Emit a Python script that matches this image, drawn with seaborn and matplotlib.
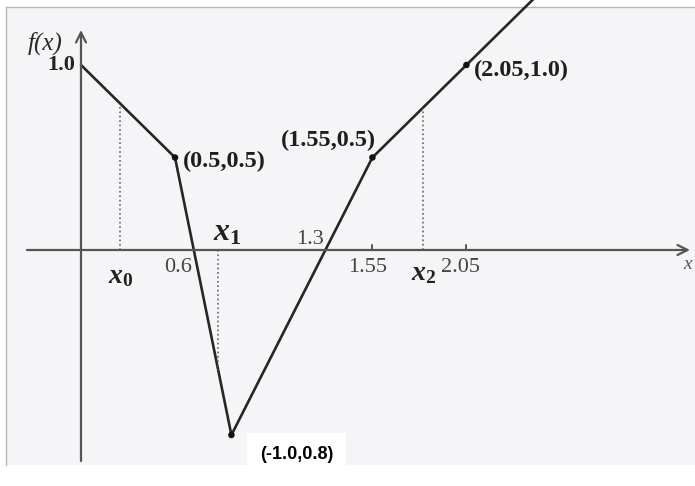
import numpy as np
import pandas as pd
import matplotlib
matplotlib.use("Agg")
import matplotlib.pyplot as plt
import seaborn as sns

# piecewise linear f(x) as drawn (last point is where the line leaves the top)
curve_x = [0.0, 0.5, 0.8, 1.55, 2.05, 2.45]
curve_y = [1.0, 0.5, -1.0, 0.5, 1.0, 1.4]

# marked points and their printed labels
dot_x = [0.5, 1.55, 2.05, 0.8]
dot_y = [0.5, 0.5, 1.0, -1.0]
dot_labels = ["(0.5,0.5)", "(1.55,0.5)", "(2.05,1.0)", "(-1.0,0.8)"]

# x positions of the iterates x0, x1, x2
iter_x = [0.21, 0.73, 1.82]
iter_labels = [r"$x_0$", r"$x_1$", r"$x_2$"]

# values written along the x axis
tick_vals = [0.6, 1.3, 1.55, 2.05]
tick_labels = ["0.6", "1.3", "1.55", "2.05"]

sns.set_style("white")
plt.rcParams["font.family"] = ["Liberation Serif", "DejaVu Serif"]
plt.rcParams["mathtext.fontset"] = "custom"
plt.rcParams["mathtext.it"] = "Liberation Serif:italic:bold"
plt.rcParams["mathtext.rm"] = "Liberation Serif:bold"

fig = plt.figure(figsize=(6.95, 4.86), dpi=100)
fig.patch.set_facecolor("white")

# scanned page background with its thin frame
bg = fig.add_axes([6 / 695, 21 / 486, 689 / 695, 458 / 486])
bg.set_facecolor("#f5f4f6")
bg.set_xticks([])
bg.set_yticks([])
for side in ["right", "bottom"]:
    bg.spines[side].set_visible(False)
for side in ["top", "left"]:
    bg.spines[side].set_color("#b8b8b8")
    bg.spines[side].set_linewidth(1.0)

ax = fig.add_axes([0, 0, 1, 1], zorder=2)
ax.patch.set_alpha(0)
px = 188.0  # pixels per unit in x
py = 185.0  # pixels per unit in y
ax.set_xlim(-81 / px, 614 / px)
ax.set_ylim(-236 / py, 250 / py)
ax.axis("off")

axis_col = "#555555"
# axes with arrows
ax.annotate("", xy=(609 / px, 0), xytext=(-54 / px, 0),
            arrowprops=dict(arrowstyle="->", color=axis_col, lw=1.6,
                            mutation_scale=18, shrinkA=0, shrinkB=0))
ax.annotate("", xy=(0, 220 / py), xytext=(0, -211 / py),
            arrowprops=dict(arrowstyle="->", color=axis_col, lw=1.6,
                            mutation_scale=18, shrinkA=0, shrinkB=0))
ax.text(607 / px, -6 / py, "x", style="italic", fontsize=14, color="#555555",
        ha="center", va="top")
ax.text(-36 / px, 207 / py, "f(x)", style="italic", fontsize=18, color="#2a2a2a",
        ha="center", va="center")
ax.text(-6 / px, 1.0, "1.0", fontsize=16, fontweight="bold", color="#222222",
        ha="right", va="center")

# the function
df = pd.DataFrame({"x": curve_x, "y": curve_y})
sns.lineplot(data=df, x="x", y="y", sort=False, color="#262626", lw=1.9, ax=ax)
sns.scatterplot(x=dot_x, y=dot_y, color="#111111", s=22, edgecolor="none",
                ax=ax, zorder=5)

# dotted drop lines for the iterates
for xi, lab in zip(iter_x, iter_labels):
    yi = np.interp(xi, curve_x, curve_y)
    ax.plot([xi, xi], [0, yi], ls=":", color="#666666", lw=1.2)
offs = [(0, -27), (9, 17), (0, -24)]
sizes = [20, 23, 20]
for xi, lab, o, fs in zip(iter_x, iter_labels, offs, sizes):
    ax.annotate(lab, (xi, 0), xytext=o, textcoords="offset pixels",
                ha="center", va="center", fontsize=fs, color="#222222")

# small tick marks
for t in tick_vals[2:]:
    ax.plot([t, t], [0, 5 / py], color=axis_col, lw=1.4)

tick_offs = [(-16, -18), (-15, 10), (-5, -17), (-6, -17)]
for t, lab, o in zip(tick_vals, tick_labels, tick_offs):
    ax.annotate(lab, (t, 0), xytext=o, textcoords="offset pixels",
                ha="center", va="center", fontsize=16, color="#444444")

# point labels
lab_offs = [(8, -4), (4, 17), (7, -5), (65, -19)]
lab_ha = ["left", "right", "left", "center"]
for xd, yd, lab, o, ha in zip(dot_x, dot_y, dot_labels, lab_offs, lab_ha):
    if lab.startswith("(-"):
        ax.annotate(lab, (xd, yd), xytext=o, textcoords="offset pixels",
                    ha=ha, va="center", fontsize=13, fontweight="bold",
                    family=["Liberation Sans", "DejaVu Sans"], color="black",
                    bbox=dict(boxstyle="square,pad=0.7", fc="white", ec="none"))
    else:
        ax.annotate(lab, (xd, yd), xytext=o, textcoords="offset pixels",
                    ha=ha, va="center", fontsize=17.5, fontweight="bold",
                    color="#1e1e1e")

fig.savefig("out.png", dpi=100)
